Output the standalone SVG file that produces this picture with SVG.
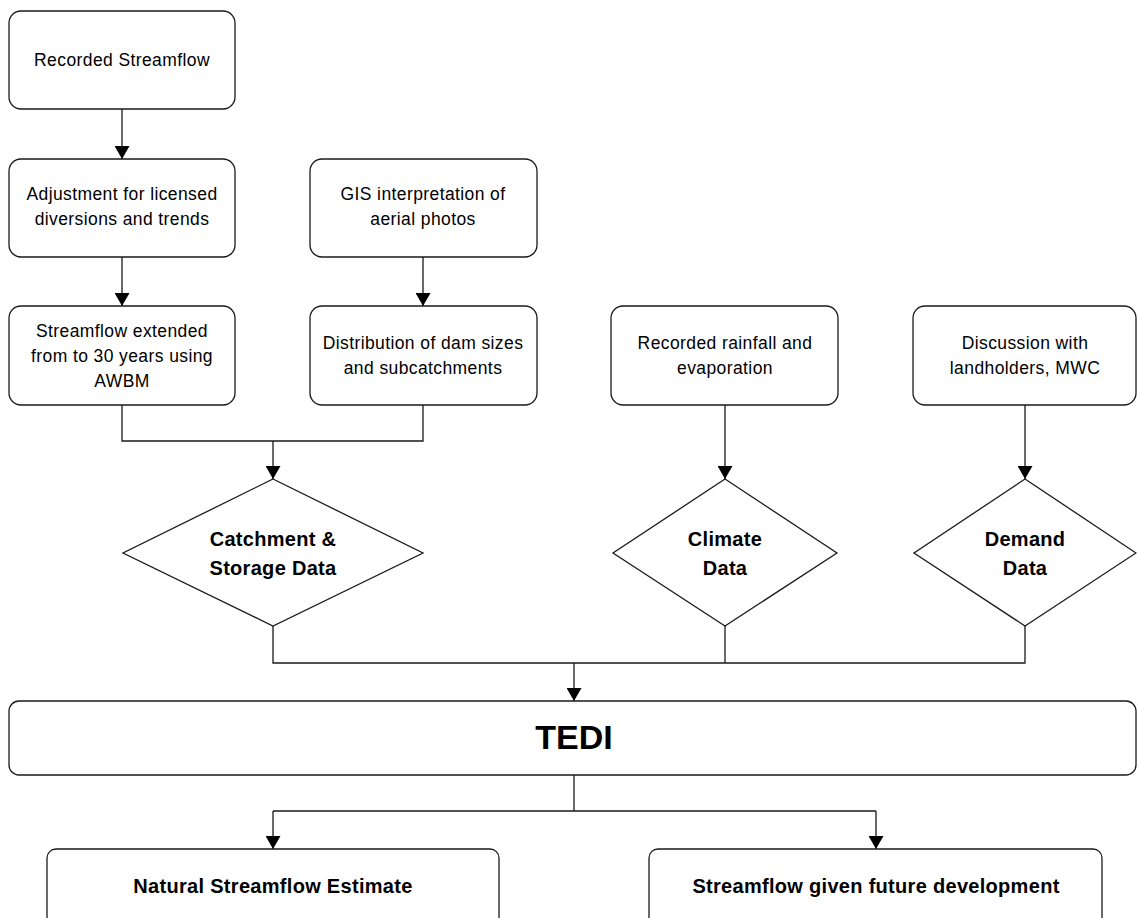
<svg xmlns="http://www.w3.org/2000/svg" width="1137" height="918" viewBox="0 0 1137 918">
<defs>
<marker id="ah" markerUnits="userSpaceOnUse" markerWidth="15" markerHeight="15" refX="13" refY="7.5" orient="auto">
<path d="M0,0 L13,7.5 L0,15 z" fill="#000"/>
</marker>
<style>
.box{fill:#fff;stroke:#1a1a1a;stroke-width:1.3}
.t{font-family:"Liberation Sans",Arial,sans-serif;font-size:17.5px;letter-spacing:0.4px;fill:#000;text-anchor:middle}
.b{font-family:"Liberation Sans",Arial,sans-serif;font-size:20px;font-weight:bold;letter-spacing:0.3px;fill:#000;text-anchor:middle}
.big{font-family:"Liberation Sans",Arial,sans-serif;font-size:34px;font-weight:bold;fill:#000;text-anchor:middle}
.c{fill:none;stroke:#1a1a1a;stroke-width:1.3}
.a{fill:none;stroke:#1a1a1a;stroke-width:1.3;marker-end:url(#ah)}
</style>
</defs>
<rect width="1137" height="918" fill="#fff"/>
<g id="connectors">
<line class="a" x1="122" y1="109" x2="122" y2="159"/>
<line class="a" x1="122" y1="257" x2="122" y2="306"/>
<line class="a" x1="423" y1="257" x2="423" y2="306"/>
<polyline class="c" points="122,405 122,441 423,441 423,405"/>
<line class="a" x1="273" y1="441" x2="273" y2="479"/>
<line class="a" x1="725" y1="405" x2="725" y2="479"/>
<line class="a" x1="1025" y1="405" x2="1025" y2="479"/>
<polyline class="c" points="273,626 273,663 1025,663 1025,626"/>
<line class="c" x1="725" y1="626" x2="725" y2="663"/>
<line class="a" x1="574" y1="663" x2="574" y2="701"/>
<line class="c" x1="574" y1="775" x2="574" y2="811"/>
<polyline class="c" points="273,811 876,811"/>
<line class="a" x1="273" y1="811" x2="273" y2="849"/>
<line class="a" x1="876" y1="811" x2="876" y2="849"/>
</g>
<g id="recorded-streamflow">
<rect class="box" x="9" y="11" width="226" height="98" rx="12"/>
<text class="t" x="122" y="66">Recorded Streamflow</text>
</g>
<g id="adjustment">
<rect class="box" x="9" y="159" width="226" height="98" rx="12"/>
<text class="t" x="122" y="200">Adjustment for licensed</text>
<text class="t" x="122" y="225">diversions and trends</text>
</g>
<g id="gis">
<rect class="box" x="310" y="159" width="227" height="98" rx="12"/>
<text class="t" x="423" y="200">GIS interpretation of</text>
<text class="t" x="423" y="225">aerial photos</text>
</g>
<g id="streamflow-extended">
<rect class="box" x="9" y="306" width="226" height="99" rx="12"/>
<text class="t" x="122" y="337">Streamflow extended</text>
<text class="t" x="122" y="362">from to 30 years using</text>
<text class="t" x="122" y="387">AWBM</text>
</g>
<g id="distribution">
<rect class="box" x="310" y="306" width="227" height="99" rx="12"/>
<text class="t" x="423" y="349">Distribution of dam sizes</text>
<text class="t" x="423" y="374">and subcatchments</text>
</g>
<g id="rainfall">
<rect class="box" x="611" y="306" width="227" height="99" rx="12"/>
<text class="t" x="725" y="349">Recorded rainfall and</text>
<text class="t" x="725" y="374">evaporation</text>
</g>
<g id="discussion">
<rect class="box" x="913" y="306" width="223" height="99" rx="12"/>
<text class="t" x="1025" y="349">Discussion with</text>
<text class="t" x="1025" y="374">landholders, MWC</text>
</g>
<g id="catchment-data">
<polygon class="box" points="273,479 423,553 273,626 123,553"/>
<text class="b" x="273" y="546">Catchment &amp;</text>
<text class="b" x="273" y="575">Storage Data</text>
</g>
<g id="climate-data">
<polygon class="box" points="725,479 837,553 725,626 613,553"/>
<text class="b" x="725" y="546">Climate</text>
<text class="b" x="725" y="575">Data</text>
</g>
<g id="demand-data">
<polygon class="box" points="1025,479 1136,553 1025,626 914,553"/>
<text class="b" x="1025" y="546">Demand</text>
<text class="b" x="1025" y="575">Data</text>
</g>
<g id="tedi">
<rect class="box" x="9" y="701" width="1127" height="74" rx="10"/>
<text class="big" x="574" y="749">TEDI</text>
</g>
<g id="natural-streamflow">
<rect class="box" x="47" y="849" width="452" height="80" rx="9"/>
<text class="b" x="273" y="893">Natural Streamflow Estimate</text>
</g>
<g id="future-streamflow">
<rect class="box" x="649" y="849" width="453" height="80" rx="9"/>
<text class="b" x="876" y="893">Streamflow given future development</text>
</g>
</svg>
